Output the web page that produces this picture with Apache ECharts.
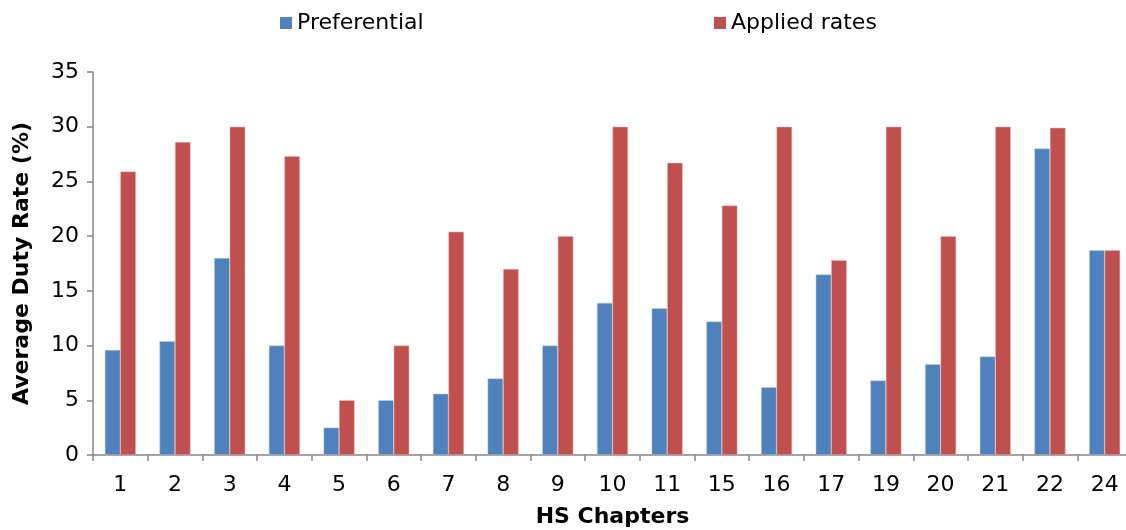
<!DOCTYPE html>
<html>
<head>
<meta charset="utf-8">
<script src="https://cdn.jsdelivr.net/npm/echarts@6/dist/echarts.min.js"></script>
<style>
  html, body { margin: 0; padding: 0; background: #fff; overflow: hidden; }
  #chart { width: 1126px; height: 530px; }
</style>
</head>
<body>
<div id="chart"></div>
<script>
// HS chapters on the x axis
const chapters = ['1', '2', '3', '4', '5', '6', '7', '8', '9', '10', '11', '15', '16', '17', '19', '20', '21', '22', '24'];
// Average duty rates (%) per chapter
const preferential = [9.6, 10.4, 18, 10, 2.5, 5, 5.6, 7, 10, 13.9, 13.4, 12.2, 6.2, 16.5, 6.8, 8.3, 9, 28, 18.7];
const appliedRates = [25.9, 28.6, 30, 27.3, 5, 10, 20.4, 17, 20, 30, 26.7, 22.8, 30, 17.8, 30, 20, 30, 29.9, 18.7];

const fontFamily = 'DejaVu Sans, Verdana, sans-serif';
const axisGray = '#868686';
const legendText = { fontSize: 22, fontFamily: fontFamily, color: '#000' };

const chart = echarts.init(document.getElementById('chart'));
chart.setOption({
  animation: false,
  textStyle: { fontFamily: fontFamily, color: '#000' },
  legend: [
    {
      data: ['Preferential'], left: 275, top: 7, icon: 'rect',
      itemWidth: 12, itemHeight: 12, itemGap: 0,
      itemStyle: { borderWidth: 0 },
      textStyle: legendText
    },
    {
      data: ['Applied rates'], left: 709, top: 7, icon: 'rect',
      itemWidth: 12, itemHeight: 12, itemGap: 0,
      itemStyle: { borderWidth: 0 },
      textStyle: legendText
    }
  ],
  // plot runs slightly past the right edge of the canvas
  grid: { left: 93, width: 1039, top: 72, bottom: 75, containLabel: false, outerBoundsMode: 'none' },
  xAxis: {
    type: 'category',
    data: chapters,
    name: 'HS Chapters',
    nameLocation: 'middle',
    nameGap: 51,
    nameTextStyle: { fontSize: 22, fontWeight: 'bold', fontFamily: fontFamily, color: '#000' },
    axisLine: { lineStyle: { color: axisGray, width: 1.5 } },
    axisTick: { show: true, length: 6, lineStyle: { color: axisGray, width: 1.5 } },
    axisLabel: { fontSize: 22, color: '#000', margin: 19 }
  },
  yAxis: {
    type: 'value',
    min: 0, max: 35, interval: 5,
    name: 'Average Duty Rate (%)',
    nameLocation: 'middle',
    nameGap: 60,
    nameTextStyle: { fontSize: 22, fontWeight: 'bold', fontFamily: fontFamily, color: '#000' },
    axisLine: { show: true, lineStyle: { color: axisGray, width: 1.5 } },
    axisTick: { show: true, length: 6, lineStyle: { color: axisGray, width: 1.5 } },
    axisLabel: { fontSize: 22, color: '#000', margin: 14, padding: [6, 0, 0, 0] },
    splitLine: { show: false }
  },
  series: [
    {
      name: 'Preferential', type: 'bar', data: preferential,
      barWidth: 15.5, barGap: '0%',
      itemStyle: { color: '#4F81BD', borderColor: '#B9CDE5', borderWidth: 0.5 }
    },
    {
      name: 'Applied rates', type: 'bar', data: appliedRates,
      barWidth: 15.5, barGap: '0%',
      itemStyle: { color: '#C0504D', borderColor: '#E6B9B8', borderWidth: 0.5 }
    }
  ]
});
</script>
</body>
</html>
